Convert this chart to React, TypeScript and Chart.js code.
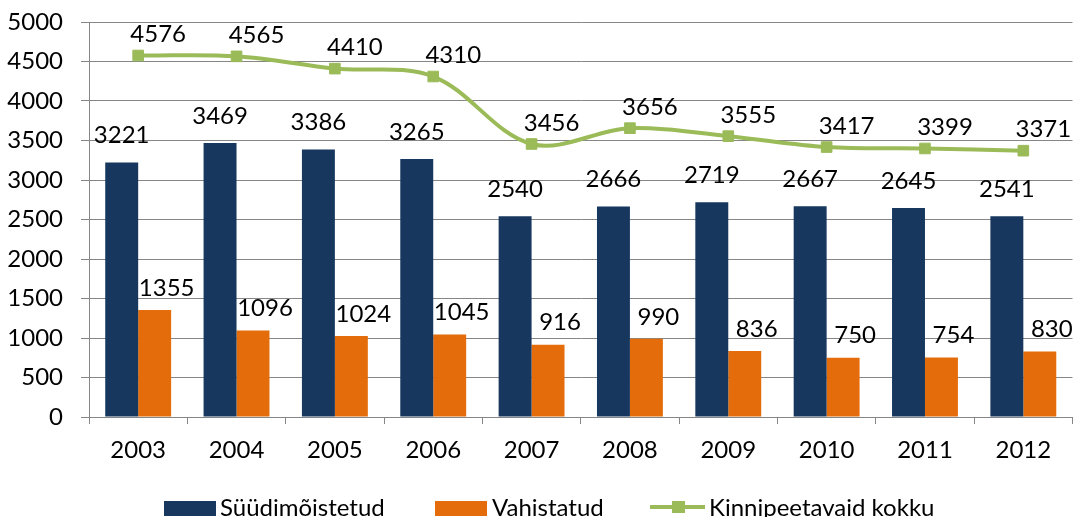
import React, { useEffect, useRef } from "react";
import { Chart, registerables } from "chart.js";

Chart.register(...registerables);

const years = ["2003", "2004", "2005", "2006", "2007", "2008", "2009", "2010", "2011", "2012"];
const suudimoistetud = [3221, 3469, 3386, 3265, 2540, 2666, 2719, 2667, 2645, 2541];
const vahistatud = [1355, 1096, 1024, 1045, 916, 990, 836, 750, 754, 830];
const kinnipeetavad = [4576, 4565, 4410, 4310, 3456, 3656, 3555, 3417, 3399, 3371];
const seriesNames = ["Süüdimõistetud", "Vahistatud", "Kinnipeetavaid kokku"];

const NAVY = "#17375E";
const ORANGE = "#E46C0A";
const GREEN = "#9BBB59";
const GRID = "#868686";
const FONT = "Lato, 'DejaVu Sans', sans-serif";
const FONT_SIZE = 24;

const labelOffsets = [
  { dx: 0, dy: -27 },
  { dx: 12, dy: -22 },
  { dx: 20, dy: -21 },
];

const labelsPlugin = {
  id: "dataLabels",
  afterDatasetsDraw(chart: any) {
    const ctx = chart.ctx;
    ctx.save();
    ctx.font = `${FONT_SIZE}px ${FONT}`;
    ctx.fillStyle = "#000";
    ctx.textAlign = "center";
    ctx.textBaseline = "middle";
    chart.data.datasets.forEach((ds: any, di: number) => {
      const meta = chart.getDatasetMeta(di);
      const off = labelOffsets[di];
      meta.data.forEach((el: any, i: number) => {
        ctx.fillText(String(ds.data[i]), el.x + off.dx, el.y + off.dy);
      });
    });
    ctx.restore();
  },
};

const legendPlugin = {
  id: "customLegend",
  afterDraw(chart: any) {
    const ctx = chart.ctx;
    ctx.save();
    ctx.font = `${FONT_SIZE}px ${FONT}`;
    ctx.textAlign = "left";
    ctx.textBaseline = "middle";
    const ty = 508;
    ctx.fillStyle = NAVY;
    ctx.fillRect(164, 501, 52, 15);
    ctx.fillStyle = "#000";
    ctx.fillText(seriesNames[0], 220, ty);
    ctx.fillStyle = ORANGE;
    ctx.fillRect(435, 501, 52, 15);
    ctx.fillStyle = "#000";
    ctx.fillText(seriesNames[1], 492, ty);
    ctx.strokeStyle = GREEN;
    ctx.lineWidth = 4;
    ctx.beginPath();
    ctx.moveTo(650, 507);
    ctx.lineTo(705, 507);
    ctx.stroke();
    ctx.fillStyle = GREEN;
    ctx.fillRect(672, 501, 13, 12);
    ctx.fillStyle = "#000";
    ctx.fillText(seriesNames[2], 709, ty);
    ctx.restore();
  },
};

export default function App() {
  const ref = useRef<HTMLCanvasElement>(null);
  useEffect(() => {
    document.body.style.margin = "0";
    const chart = new Chart(ref.current as HTMLCanvasElement, {
      type: "bar",
      data: {
        labels: years,
        datasets: [
          {
            type: "bar",
            label: seriesNames[0],
            data: suudimoistetud,
            backgroundColor: NAVY,
            categoryPercentage: 0.67,
            barPercentage: 1,
            order: 1,
          },
          {
            type: "bar",
            label: seriesNames[1],
            data: vahistatud,
            backgroundColor: ORANGE,
            categoryPercentage: 0.67,
            barPercentage: 1,
            order: 1,
          },
          {
            type: "line",
            label: seriesNames[2],
            data: kinnipeetavad,
            borderColor: GREEN,
            backgroundColor: GREEN,
            borderWidth: 4,
            tension: 0.35,
            pointStyle: "rect",
            pointRadius: 7.5,
            pointBorderWidth: 1,
            pointBorderColor: GREEN,
            pointBackgroundColor: GREEN,
            order: 0,
          } as any,
        ],
      },
      options: {
        animation: false,
        responsive: true,
        maintainAspectRatio: false,
        layout: { padding: { top: 22, right: 8, left: 0, bottom: 0 } },
        plugins: {
          legend: { display: false },
          tooltip: { enabled: false },
        },
        scales: {
          x: {
            grid: {
              offset: true,
              drawOnChartArea: false,
              drawTicks: true,
              tickLength: 7,
              color: GRID,
            },
            border: { color: GRID, width: 1 },
            ticks: {
              color: "#000",
              font: { family: FONT, size: FONT_SIZE },
              padding: 12,
              maxRotation: 0,
            },
            afterFit(scale: any) {
              scale.height = 100;
              scale.paddingLeft = 0;
              scale.paddingRight = 0;
            },
          },
          y: {
            min: 0,
            max: 5000,
            ticks: {
              stepSize: 500,
              color: "#000",
              font: { family: FONT, size: FONT_SIZE },
              padding: 18,
              callback: (v: any) => String(v),
            },
            grid: { color: GRID, tickLength: 8, lineWidth: 1 },
            border: { color: GRID, width: 1 },
            afterFit(scale: any) {
              scale.width = 89;
              scale.paddingTop = 0;
              scale.paddingBottom = 0;
            },
          },
        },
      },
      plugins: [labelsPlugin, legendPlugin],
    });
    return () => chart.destroy();
  }, []);
  return (
    <div style={{ width: "1081px", height: "517px", position: "relative" }}>
      <canvas ref={ref} />
    </div>
  );
}
